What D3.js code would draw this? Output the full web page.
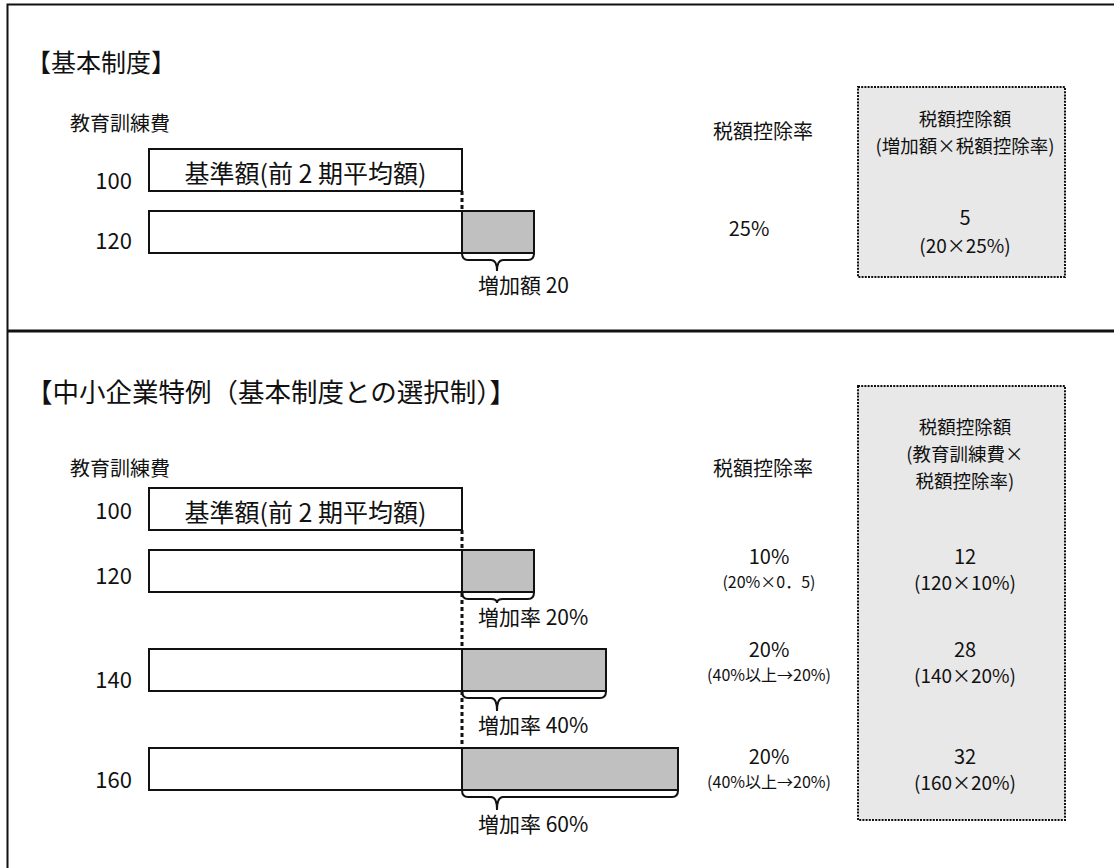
<!DOCTYPE html>
<html>
<head>
<meta charset="utf-8">
<script src="https://cdn.jsdelivr.net/npm/d3@7"></script>
<style>
  html, body { margin: 0; padding: 0; background: #fff; }
  svg { display: block; font-family: "Noto Sans CJK JP", "Noto Sans", sans-serif; font-weight: 400; }
  text { fill: #111; }
</style>
</head>
<body>
<svg id="chart" width="1114" height="868"></svg>
<script>
// ---- data ----
const baseExpense = 100;                 // 基準額（前2期平均額）
const basicExpenses = [120];             // 基本制度: 教育訓練費
const basicRates = [25];                 // 税額控除率 (%)
const basicCredits = [5];                // 税額控除額
const smeExpenses = [120, 140, 160];     // 中小企業特例: 教育訓練費
const smeRates = [10, 20, 20];           // 税額控除率 (%)
const smeRateNotes = ["(20%×0．5)", "(40%以上→20%)", "(40%以上→20%)"];
const smeCredits = [12, 28, 32];         // 税額控除額

// ---- scales ----
// base amount occupies a fixed span; the increase is drawn on a wider unit
const x = d3.scaleLinear().domain([0, baseExpense, 160]).range([149, 462, 678]);
const barH = 42;
const baseGap = 62;          // distance from the base bar to the first compared bar

const svg = d3.select("#chart");

// ---- frame ----
svg.append("path")
  .attr("d", "M1114,4.5H7.5V868")
  .attr("fill", "none").attr("stroke", "#111").attr("stroke-width", 2);
svg.append("line")
  .attr("x1", 7).attr("x2", 1114).attr("y1", 331).attr("y2", 331)
  .attr("stroke", "#111").attr("stroke-width", 3);

function txt(g, xp, yp, s, size, anchor) {
  return g.append("text")
    .attr("x", xp).attr("y", yp)
    .attr("dominant-baseline", "central")
    .attr("text-anchor", anchor || "start")
    .attr("font-size", size)
    .text(s);
}

function brace(x0, x1, tipX, yTop, depth) {
  const h = 7, r = 6;
  const yM = yTop + h, yT = yTop + depth;
  const p = d3.path();
  p.moveTo(x0, yTop);
  p.quadraticCurveTo(x0, yM, x0 + r, yM);
  p.lineTo(tipX - r, yM);
  p.quadraticCurveTo(tipX, yM, tipX, yT);
  p.quadraticCurveTo(tipX, yM, tipX + r, yM);
  p.lineTo(x1 - r, yM);
  p.quadraticCurveTo(x1, yM, x1, yTop);
  return p.toString();
}

function drawSection(o) {
  const g = svg.append("g");
  const y = d3.scaleBand().domain(o.expenses).range(o.bandRange).paddingInner(o.padding);
  const baseY = y(o.expenses[0]) - baseGap;
  const lastY = y(o.expenses[o.expenses.length - 1]);

  txt(g, 26, o.titleY, o.title, o.titleSize);
  txt(g, 70, o.headY, "教育訓練費", 20);
  txt(g, 763, o.rateHeadY, "税額控除率", 20, "middle");

  // credit column panel
  g.append("rect")
    .attr("x", 858).attr("y", o.boxTop).attr("width", 207).attr("height", o.boxH)
    .attr("fill", "#e8e8e8").attr("stroke", "#111")
    .attr("stroke-width", 2).attr("stroke-dasharray", "2 1.2");
  o.boxHead.forEach((s, i) => txt(g, 965, o.boxHeadY[i], s, 18.5, "middle"));

  // dotted guide at the end of the base amount
  g.append("line")
    .attr("x1", x(baseExpense)).attr("x2", x(baseExpense))
    .attr("y1", baseY + barH).attr("y2", lastY)
    .attr("stroke", "#111").attr("stroke-width", 3).attr("stroke-dasharray", "4 3");

  // base bar
  g.append("rect")
    .attr("x", x(0)).attr("y", baseY)
    .attr("width", x(baseExpense) - x(0)).attr("height", barH)
    .attr("fill", "#fff").attr("stroke", "#111").attr("stroke-width", 2);
  txt(g, (x(0) + x(baseExpense)) / 2, baseY + barH / 2 + 2, "基準額(前 2 期平均額)", 25, "middle");
  txt(g, 132, baseY + barH / 2 + o.baseNudge, String(baseExpense), 22, "end");

  o.expenses.forEach((e, i) => {
    const top = y(e);
    const inc = e - baseExpense;
    g.append("rect")
      .attr("x", x(0)).attr("y", top)
      .attr("width", x(baseExpense) - x(0)).attr("height", barH)
      .attr("fill", "#fff").attr("stroke", "#111").attr("stroke-width", 2);
    g.append("rect")
      .attr("x", x(baseExpense)).attr("y", top)
      .attr("width", x(e) - x(baseExpense)).attr("height", barH)
      .attr("fill", "#c0c0c0").attr("stroke", "#111").attr("stroke-width", 2);
    txt(g, 132, top + barH / 2 + o.labelNudge[i], String(e), 22, "end");

    const depth = o.braceDepth[i];
    g.append("path")
      .attr("d", brace(x(baseExpense), x(e), x(baseExpense) + 35, top + barH, depth))
      .attr("fill", "none").attr("stroke", "#111").attr("stroke-width", 2);
    txt(g, 478, top + barH + depth + 13, o.incLabel(inc, e), 21);

    const cy = top + barH / 2 + o.noteNudge[i];
    o.rateText(g, i, cy);
    o.creditText(g, i, cy, e, inc);
  });
}

// 基本制度
drawSection({
  title: "【基本制度】", titleY: 61, titleSize: 25,
  headY: 122, rateHeadY: 130,
  boxTop: 87, boxH: 190,
  boxHead: ["税額控除額", "(増加額×税額控除率)"], boxHeadY: [118, 145],
  expenses: basicExpenses, bandRange: [211, 253], padding: 0,
  baseNudge: 9, labelNudge: [7], braceDepth: [18], noteNudge: [-2],
  incLabel: (inc) => `増加額 ${inc}`,
  rateText: (g, i, cy) => txt(g, 749, cy - 3, `${basicRates[i]}%`, 20, "middle"),
  creditText: (g, i, cy, e, inc) => {
    txt(g, 965, cy - 14, String(basicCredits[i]), 20, "middle");
    txt(g, 965, cy + 14, `(${inc}×${basicRates[i]}%)`, 19, "middle");
  }
});

// 中小企業特例
drawSection({
  title: "【中小企業特例（基本制度との選択制）】", titleY: 390, titleSize: 26.5,
  headY: 467, rateHeadY: 467,
  boxTop: 386, boxH: 434,
  boxHead: ["税額控除額", "(教育訓練費×", "税額控除率)"], boxHeadY: [426, 453, 480],
  expenses: smeExpenses, bandRange: [550, 790], padding: 57 / 99,
  baseNudge: 0, labelNudge: [3, 8, 9], braceDepth: [11, 20, 20], noteNudge: [-3, -9, -1],
  incLabel: (inc) => `増加率 ${inc / baseExpense * 100}%`,
  rateText: (g, i, cy) => {
    txt(g, 769, cy - 13, `${smeRates[i]}%`, 20, "middle");
    txt(g, 769, cy + 13, smeRateNotes[i], 16, "middle");
  },
  creditText: (g, i, cy, e) => {
    txt(g, 965, cy - 13, String(smeCredits[i]), 20, "middle");
    txt(g, 965, cy + 13, `(${e}×${smeRates[i]}%)`, 19, "middle");
  }
});
</script>
</body>
</html>
